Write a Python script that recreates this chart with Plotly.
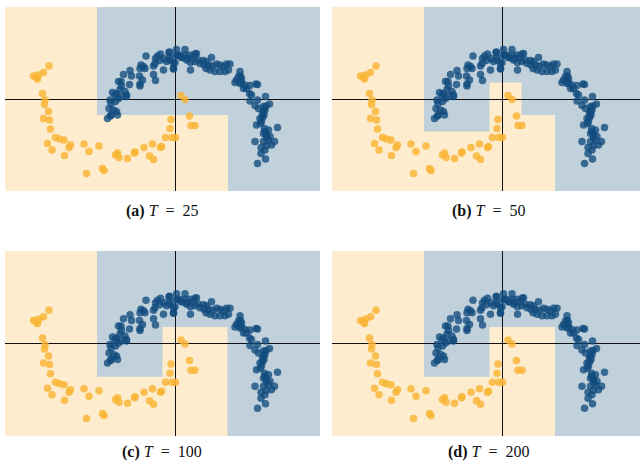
import plotly.graph_objects as go

# ---------------- data ----------------
yellow_x = [-2.52, -2.63, -2.83, -2.73, -2.75, -2.77, -2.65, -2.60, -2.61, -2.53,
            -2.63, -2.51, -2.49, -2.39, -2.31, -2.22, -2.55, -2.46, -2.21, -2.09,
            -2.12, -1.82, -1.72, -1.52, -1.77, -1.45, -1.42, -1.15, -1.19, -1.12,
            -0.95, -0.80, -0.81, -0.62, -0.51, -0.43, -0.45, -0.27, -0.29, -0.19,
            -0.10, -0.08, -0.06, 0.01, 0.12, 0.20, 0.29, 0.32, 0.40]
yellow_y = [0.66, 0.53, 0.46, 0.48, 0.40, 0.43, 0.11, -0.02, -0.11, -0.25,
            -0.39, -0.42, -0.60, -0.77, -0.80, -0.82, -0.89, -1.02, -1.13, -0.92,
            -0.97, -0.90, -1.05, -0.94, -1.49, -1.39, -1.43, -1.08, -1.12, -1.17,
            -1.19, -1.06, -1.08, -0.97, -1.14, -1.21, -0.90, -0.95, -0.97, -0.77,
            -0.59, -0.41, -0.77, -0.77, 0.07, -0.01, -0.34, -0.53, -0.53]

blue_x = [-0.58, -0.35, -0.29, -0.22, -0.12, -0.17, -0.10, -0.39, -0.31, 0.05,
          0.00, -0.03, -0.23, -0.40, -0.43, -0.43, -0.39, -0.68, -0.63, -0.70,
          -0.60, -0.90, -0.87, -1.03, -0.71, -0.65, -0.70, -0.70, -0.91, -1.08,
          -1.13, -1.07, -1.10, -1.00, -0.97, -0.97, -1.17, -1.20, -1.25, -1.30,
          -1.28, -1.19, -1.13, -1.32, -1.23, -1.17, -1.15, -1.28, -1.35, -1.29,
          -1.07,
          0.20, 0.09, 0.03, 0.13, 0.20, 0.30, 0.40, 0.23, 0.31, 0.40,
          0.31, -0.10, -0.03, -0.03, 0.47, 0.57, 0.63, 0.73, 0.67, 0.75,
          0.83, 0.90, 0.97, 1.03, 1.10, 1.07, 1.00, 0.90, 0.80, 0.70,
          0.62, 0.50, 0.58, 1.30, 1.31, 1.20, 1.33, 1.23, 1.37, 1.49,
          1.62, -0.11, 0.03, 0.43, 0.15, 0.25, 0.35,
          1.27, 1.33, 1.30, 1.40, 1.43, 1.50, 1.65, 1.53, 1.50, 1.65,
          1.81, 1.60, 1.67, 1.77, 1.80, 1.75, 1.70, 1.73, 1.63, 1.79,
          1.87, 1.83, 2.05, 1.77, 1.60, 1.77, 1.87, 1.99, 1.83, 1.72,
          1.80, 1.72, 1.81, 1.65, 1.93, 1.90, 1.78, 1.75, 1.77, 1.82,
          1.89, 1.71, 1.80, 1.83]
blue_y = [0.86, 0.86, 0.90, 0.81, 0.93, 0.75, 0.83, 0.81, 0.77, 0.87,
          0.73, 0.60, 0.58, 0.71, 0.66, 0.49, 0.37, 0.68, 0.65, 0.61,
          0.61, 0.57, 0.46, 0.49, 0.46, 0.38, 0.30, 0.26, 0.29, 0.35,
          0.35, 0.26, 0.19, 0.15, 0.08, 0.05, 0.11, 0.08, 0.13, -0.02,
          -0.09, -0.05, 0.01, -0.19, -0.22, -0.25, -0.32, -0.32, -0.39, -0.34,
          0.05,
          0.99, 0.88, 0.88, 0.83, 0.88, 0.88, 0.90, 0.78, 0.73, 0.75,
          0.58, 0.78, 0.71, 0.61, 0.78, 0.77, 0.75, 0.83, 0.68, 0.66,
          0.70, 0.68, 0.65, 0.70, 0.70, 0.58, 0.55, 0.55, 0.55, 0.58,
          0.61, 0.71, 0.68, 0.55, 0.46, 0.33, 0.33, 0.38, 0.21, 0.11,
          0.30, 0.94, 0.99, 0.91, 0.83, 0.81, 0.83,
          0.45, 0.41, 0.31, 0.28, 0.21, 0.27, 0.29, 0.08, -0.04, -0.02,
          0.05, -0.13, -0.19, -0.15, -0.22, -0.29, -0.39, -0.45, -0.52, -0.59,
          -0.62, -0.71, -0.57, -0.69, -0.85, -0.85, -0.82, -0.85, -0.93, -0.97,
          -1.02, -1.09, -1.20, -1.29, -0.92, -0.75, -0.32, -0.37, -0.25, -0.14,
          -0.10, -0.49, -0.65, -0.77]

X_RANGE = [-3.40, 2.90]
X_RANGE_B = [-3.40, 2.76]
Y_RANGE = [-1.84, 1.84]

# blue decision regions per panel (overlapping rectangles x0, x1, y0, y1); the rest is yellow
XMAX, YMIN, YMAX = 2.90, -1.84, 1.84
regions_a = [(-1.56, XMAX, -0.32, YMAX), (1.06, XMAX, YMIN, YMAX)]
regions_b = [(-1.56, -0.25, -0.65, YMAX), (-1.56, XMAX, 0.33, YMAX),
             (0.39, XMAX, -0.32, YMAX), (1.06, XMAX, YMIN, YMAX)]
regions_c = [(-1.56, -0.25, -0.66, YMAX), (-1.56, XMAX, 0.33, YMAX),
             (1.05, XMAX, YMIN, YMAX)]
regions_d = [(-1.56, -0.25, -0.66, YMAX), (-1.56, XMAX, 0.33, YMAX),
             (1.06, XMAX, YMIN, YMAX)]

labels = ["(a)", "(b)", "(c)", "(d)"]
T_values = [25, 50, 100, 200]

# ---------------- style ----------------
BLUE_BG = "#c1d1dc"
YELLOW_BG = "#fdeccd"
BLUE_PT = "#114b7e"
YELLOW_PT = "#f9b534"

W, H = 640, 468
panels = [
    dict(xd=[5 / W, 320 / W], yd=[1 - 191 / H, 1 - 7 / H], xr=X_RANGE, reg=regions_a, cx=162 / W, cy=1 - 211 / H),
    dict(xd=[332 / W, 1.0], yd=[1 - 191 / H, 1 - 7 / H], xr=X_RANGE_B, reg=regions_b, cx=489 / W, cy=1 - 211 / H),
    dict(xd=[5 / W, 320 / W], yd=[1 - 436 / H, 1 - 251 / H], xr=X_RANGE, reg=regions_c, cx=162 / W, cy=1 - 452 / H),
    dict(xd=[332 / W, 1.0], yd=[1 - 436 / H, 1 - 251 / H], xr=X_RANGE_B, reg=regions_d, cx=489 / W, cy=1 - 452 / H),
]

fig = go.Figure()
shapes = []
annotations = []
for i, p in enumerate(panels):
    n = "" if i == 0 else str(i + 1)
    xa, ya = "x" + n, "y" + n
    fig.add_trace(go.Scatter(x=yellow_x, y=yellow_y, mode="markers", xaxis=xa, yaxis=ya,
                             marker=dict(size=7.5, color=YELLOW_PT, opacity=0.82, line=dict(width=0)),
                             showlegend=False, hoverinfo="skip"))
    fig.add_trace(go.Scatter(x=blue_x, y=blue_y, mode="markers", xaxis=xa, yaxis=ya,
                             marker=dict(size=7.5, color=BLUE_PT, opacity=0.78, line=dict(width=0)),
                             showlegend=False, hoverinfo="skip"))
    for (x0, x1, y0, y1) in p["reg"]:
        shapes.append(dict(type="rect", xref=xa, yref=ya, x0=x0, x1=x1, y0=y0, y1=y1,
                           fillcolor=BLUE_BG, line=dict(width=0), layer="below"))
    axis_common = dict(showgrid=False, showticklabels=False, ticks="", showline=False,
                       zeroline=True, zerolinecolor="#111111", zerolinewidth=1.3, fixedrange=True)
    fig.update_layout(**{
        ("xaxis" + n): dict(domain=p["xd"], range=p["xr"], anchor=ya, **axis_common),
        ("yaxis" + n): dict(domain=p["yd"], range=Y_RANGE, anchor=xa, **axis_common),
    })
    annotations.append(dict(xref="paper", yref="paper", x=p["cx"], y=p["cy"], showarrow=False,
                            xanchor="center", yanchor="middle",
                            text=f"<b>{labels[i]}</b> <i>T</i>\u2002=\u2002{T_values[i]}",
                            font=dict(family="Liberation Serif, DejaVu Serif, serif", size=16, color="#111")))

fig.update_layout(width=W, height=H, margin=dict(l=0, r=0, t=0, b=0),
                  paper_bgcolor="white", plot_bgcolor=YELLOW_BG,
                  shapes=shapes, annotations=annotations)
fig.write_html("out.html", config={"displayModeBar": False},
               post_script="document.body.style.margin='0';")
